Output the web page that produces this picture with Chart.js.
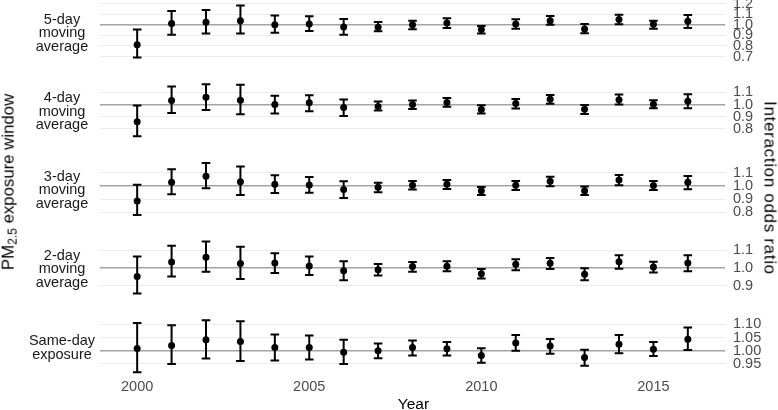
<!DOCTYPE html>
<html><head><meta charset="utf-8">
<script src="https://cdn.jsdelivr.net/npm/chart.js@4.4.1/dist/chart.umd.min.js"></script>
<style>
html,body{margin:0;padding:0;background:#fff;}
body{width:778px;height:410px;overflow:hidden;position:relative;font-family:"Liberation Sans",Arial,sans-serif;}
canvas{position:absolute;left:0;}
.lab{position:absolute;left:0;width:124px;text-align:center;font-size:14.5px;line-height:13.5px;color:#1a1a1a;transform:translateY(-50%);}
.vt{position:absolute;white-space:nowrap;font-size:16.8px;line-height:1;color:#000;}
.vt sub{font-size:0.72em;vertical-align:-0.25em;line-height:0;}
</style></head><body>
<script>
// ---- data ----
const years = [2000,2001,2002,2003,2004,2005,2006,2007,2008,2009,2010,2011,2012,2013,2014,2015,2016];
const panelLabels = [["5-day","moving","average"],["4-day","moving","average"],["3-day","moving","average"],["2-day","moving","average"],["Same-day","exposure"]];

const or5day = [0.813,1.013,1.025,1.041,1.003,1.009,0.981,0.978,1.003,1.019,0.956,1.009,1.041,0.962,1.051,1.006,1.035];
const lo5day = [0.690,0.908,0.918,0.918,0.927,0.943,0.908,0.940,0.959,0.972,0.918,0.965,1.003,0.921,1.006,0.965,0.972];
const hi5day = [0.956,1.133,1.142,1.184,1.089,1.082,1.057,1.028,1.041,1.063,0.990,1.054,1.085,1.009,1.098,1.041,1.095];

const or4day = [0.857,1.033,1.061,1.036,1.000,1.014,0.975,0.983,1.000,1.017,0.959,1.008,1.044,0.961,1.039,1.003,1.028];
const lo4day = [0.738,0.931,0.956,0.920,0.926,0.945,0.906,0.950,0.964,0.981,0.926,0.967,1.006,0.923,1.000,0.970,0.970];
const hi4day = [0.992,1.149,1.168,1.163,1.072,1.077,1.041,1.025,1.033,1.055,0.994,1.047,1.080,0.997,1.083,1.036,1.085];

const or3day = [0.885,1.028,1.074,1.033,1.013,1.008,0.972,0.990,1.005,1.013,0.964,1.005,1.036,0.964,1.046,1.003,1.028];
const lo3day = [0.779,0.936,0.982,0.931,0.947,0.949,0.908,0.952,0.972,0.977,0.931,0.969,0.997,0.931,1.005,0.969,0.975];
const hi3day = [1.010,1.127,1.176,1.148,1.081,1.069,1.036,1.025,1.038,1.046,0.992,1.038,1.071,0.995,1.084,1.038,1.076];

const or2day = [0.952,1.034,1.061,1.025,1.029,1.011,0.985,0.990,1.008,1.010,0.968,1.021,1.027,0.964,1.036,1.006,1.029];
const lo2day = [0.855,0.952,0.979,0.937,0.971,0.960,0.931,0.958,0.979,0.981,0.941,0.987,0.994,0.931,0.996,0.975,0.981];
const hi2day = [1.065,1.126,1.150,1.120,1.084,1.065,1.038,1.023,1.034,1.038,0.994,1.050,1.057,0.998,1.072,1.036,1.072];

const orSame = [1.009,1.020,1.042,1.035,1.013,1.013,0.995,1.000,1.013,1.008,0.982,1.030,1.018,0.975,1.025,1.006,1.044];
const loSame = [0.919,0.950,0.971,0.961,0.963,0.967,0.950,0.972,0.982,0.982,0.955,1.000,0.989,0.943,0.991,0.980,1.003];
const hiSame = [1.105,1.097,1.116,1.112,1.062,1.058,1.042,1.028,1.039,1.033,1.010,1.060,1.045,1.004,1.060,1.033,1.088];

const ticks5day = [0.7,0.8,0.9,1.0,1.1,1.2];
const ticks4day = [0.8,0.9,1.0,1.1];
const ticks3day = [0.8,0.9,1.0,1.1];
const ticks2day = [0.9,1.0,1.1];
const ticksSame = [0.95,1.00,1.05,1.10];
const tickDecimals = [1,1,1,1,2];
const xTicks = [2000,2005,2010,2015];
const xTitle = "Year";
const yTitleRight = "Interaction odds ratio";

// ---- layout ----
const FONT = '"Liberation Sans", Arial, sans-serif';
const PANEL_TOP0 = 3.0, PANEL_STEP = 78.65, PANEL_H = 57.2;
const AREA_LEFT = 100, AREA_RIGHT = 725, YAXIS_W = 45;
const X_MIN = 1998.92, X_MAX = 2017.08;

const panels = [
  {or:or5day, lo:lo5day, hi:hi5day, ticks:ticks5day},
  {or:or4day, lo:lo4day, hi:hi4day, ticks:ticks4day},
  {or:or3day, lo:lo3day, hi:hi3day, ticks:ticks3day},
  {or:or2day, lo:lo2day, hi:hi2day, ticks:ticks2day},
  {or:orSame, lo:loSame, hi:hiSame, ticks:ticksSame}
];

const errorBars = {
  id:'errorBars',
  beforeDatasetsDraw(chart){
    const p = chart.options.plugins.errorBars;
    const xs = chart.scales.x, ys = chart.scales.y, ctx = chart.ctx;
    ctx.save();
    ctx.strokeStyle = '#000'; ctx.lineWidth = 2; ctx.lineCap = 'butt';
    p.years.forEach((yr,i)=>{
      const x = xs.getPixelForValue(yr);
      const y1 = ys.getPixelForValue(p.lo[i]), y2 = ys.getPixelForValue(p.hi[i]);
      ctx.beginPath();
      ctx.moveTo(x,y1); ctx.lineTo(x,y2);
      ctx.moveTo(x-4.3,y1); ctx.lineTo(x+4.3,y1);
      ctx.moveTo(x-4.3,y2); ctx.lineTo(x+4.3,y2);
      ctx.stroke();
    });
    ctx.restore();
  }
};

panels.forEach((pn,idx)=>{
  const last = idx === panels.length-1;
  const T = PANEL_TOP0 + PANEL_STEP*idx;
  const PT_MIN = 22;
  const top = Math.round(T - PT_MIN);
  const padTop = T - top;
  const XAX_H = 36;
  const bottomSpace = last ? XAX_H : 22;
  const h = Math.ceil(padTop + PANEL_H + bottomSpace);
  const padBottom = last ? (h - padTop - PANEL_H - XAX_H) : (h - padTop - PANEL_H);
  const cv = document.createElement('canvas');
  cv.width = 778; cv.height = h;
  cv.style.top = top + 'px'; cv.style.width='778px'; cv.style.height = h+'px';
  document.body.appendChild(cv);

  const lmin = Math.min(...pn.lo), lmax = Math.max(...pn.hi);
  const r = lmax - lmin;
  const dec = tickDecimals[idx];

  new Chart(cv, {
    type:'scatter',
    data:{datasets:[{
      data: years.map((y,i)=>({x:y, y:pn.or[i]})),
      pointRadius:3.5, pointBackgroundColor:'#000', pointBorderWidth:0, pointBorderColor:'#000', showLine:false
    }]},
    options:{
      responsive:false, animation:false, events:[], devicePixelRatio:1,
      layout:{padding:{left:AREA_LEFT, right:778-AREA_RIGHT-YAXIS_W, top:padTop, bottom:padBottom}},
      plugins:{legend:{display:false}, tooltip:{enabled:false},
        errorBars:{years:years, lo:pn.lo, hi:pn.hi}},
      scales:{
        x:{type:'linear', min:X_MIN, max:X_MAX, display:last,
          grid:{display:false, drawTicks:false}, border:{display:false},
          afterBuildTicks:s=>{s.ticks = xTicks.map(v=>({value:v}));},
          afterFit:s=>{ s.height = last ? XAX_H : 0; },
          ticks:{padding:3, autoSkip:false, color:'#4D4D4D', font:{family:FONT, size:14.5}, maxRotation:0, callback:v=>String(v)}
        },
        y:{type:'linear', position:'right', min:lmin-0.05*r, max:lmax+0.05*r,
          afterBuildTicks:s=>{s.ticks = pn.ticks.map(v=>({value:v}));},
          afterFit:s=>{s.width = YAXIS_W;},
          grid:{drawTicks:false,
            color:c=> (c.tick && Math.abs(c.tick.value-1)<1e-9) ? '#A3A3A3' : '#EBEBEB',
            lineWidth:c=> (c.tick && Math.abs(c.tick.value-1)<1e-9) ? 1.6 : 1.1},
          border:{display:false},
          ticks:{padding:8, autoSkip:false, color:'#4D4D4D', font:{family:FONT, size:14.5}, callback:v=>Number(v).toFixed(dec)}
        }
      }
    },
    plugins:[errorBars]
  });

  const d = document.createElement('div');
  d.className='lab';
  d.style.top = (T + PANEL_H/2 + 1) + 'px';
  d.innerHTML = panelLabels[idx].join('<br>');
  document.body.appendChild(d);
});

// titles
function vtitle(html, cx, cy, rot, extra){
  const d = document.createElement('div');
  d.className='vt';
  d.innerHTML = html;
  if (extra) Object.assign(d.style, extra);
  d.style.left = cx+'px'; d.style.top = cy+'px';
  d.style.transform = 'translate(-50%,-50%) rotate('+rot+'deg)';
  document.body.appendChild(d);
}
vtitle('PM<sub>2.5</sub> exposure window', 9, 182, -90);
vtitle(yTitleRight, 770, 188, 90, {fontSize:'17px', letterSpacing:'0.68px'});
const yt = document.createElement('div');
yt.className='vt';
yt.style.fontSize='15.5px';
yt.textContent = xTitle;
yt.style.left = '413.5px'; yt.style.top='404px';
yt.style.transform='translate(-50%,-50%)';
document.body.appendChild(yt);
</script>
</body></html>
